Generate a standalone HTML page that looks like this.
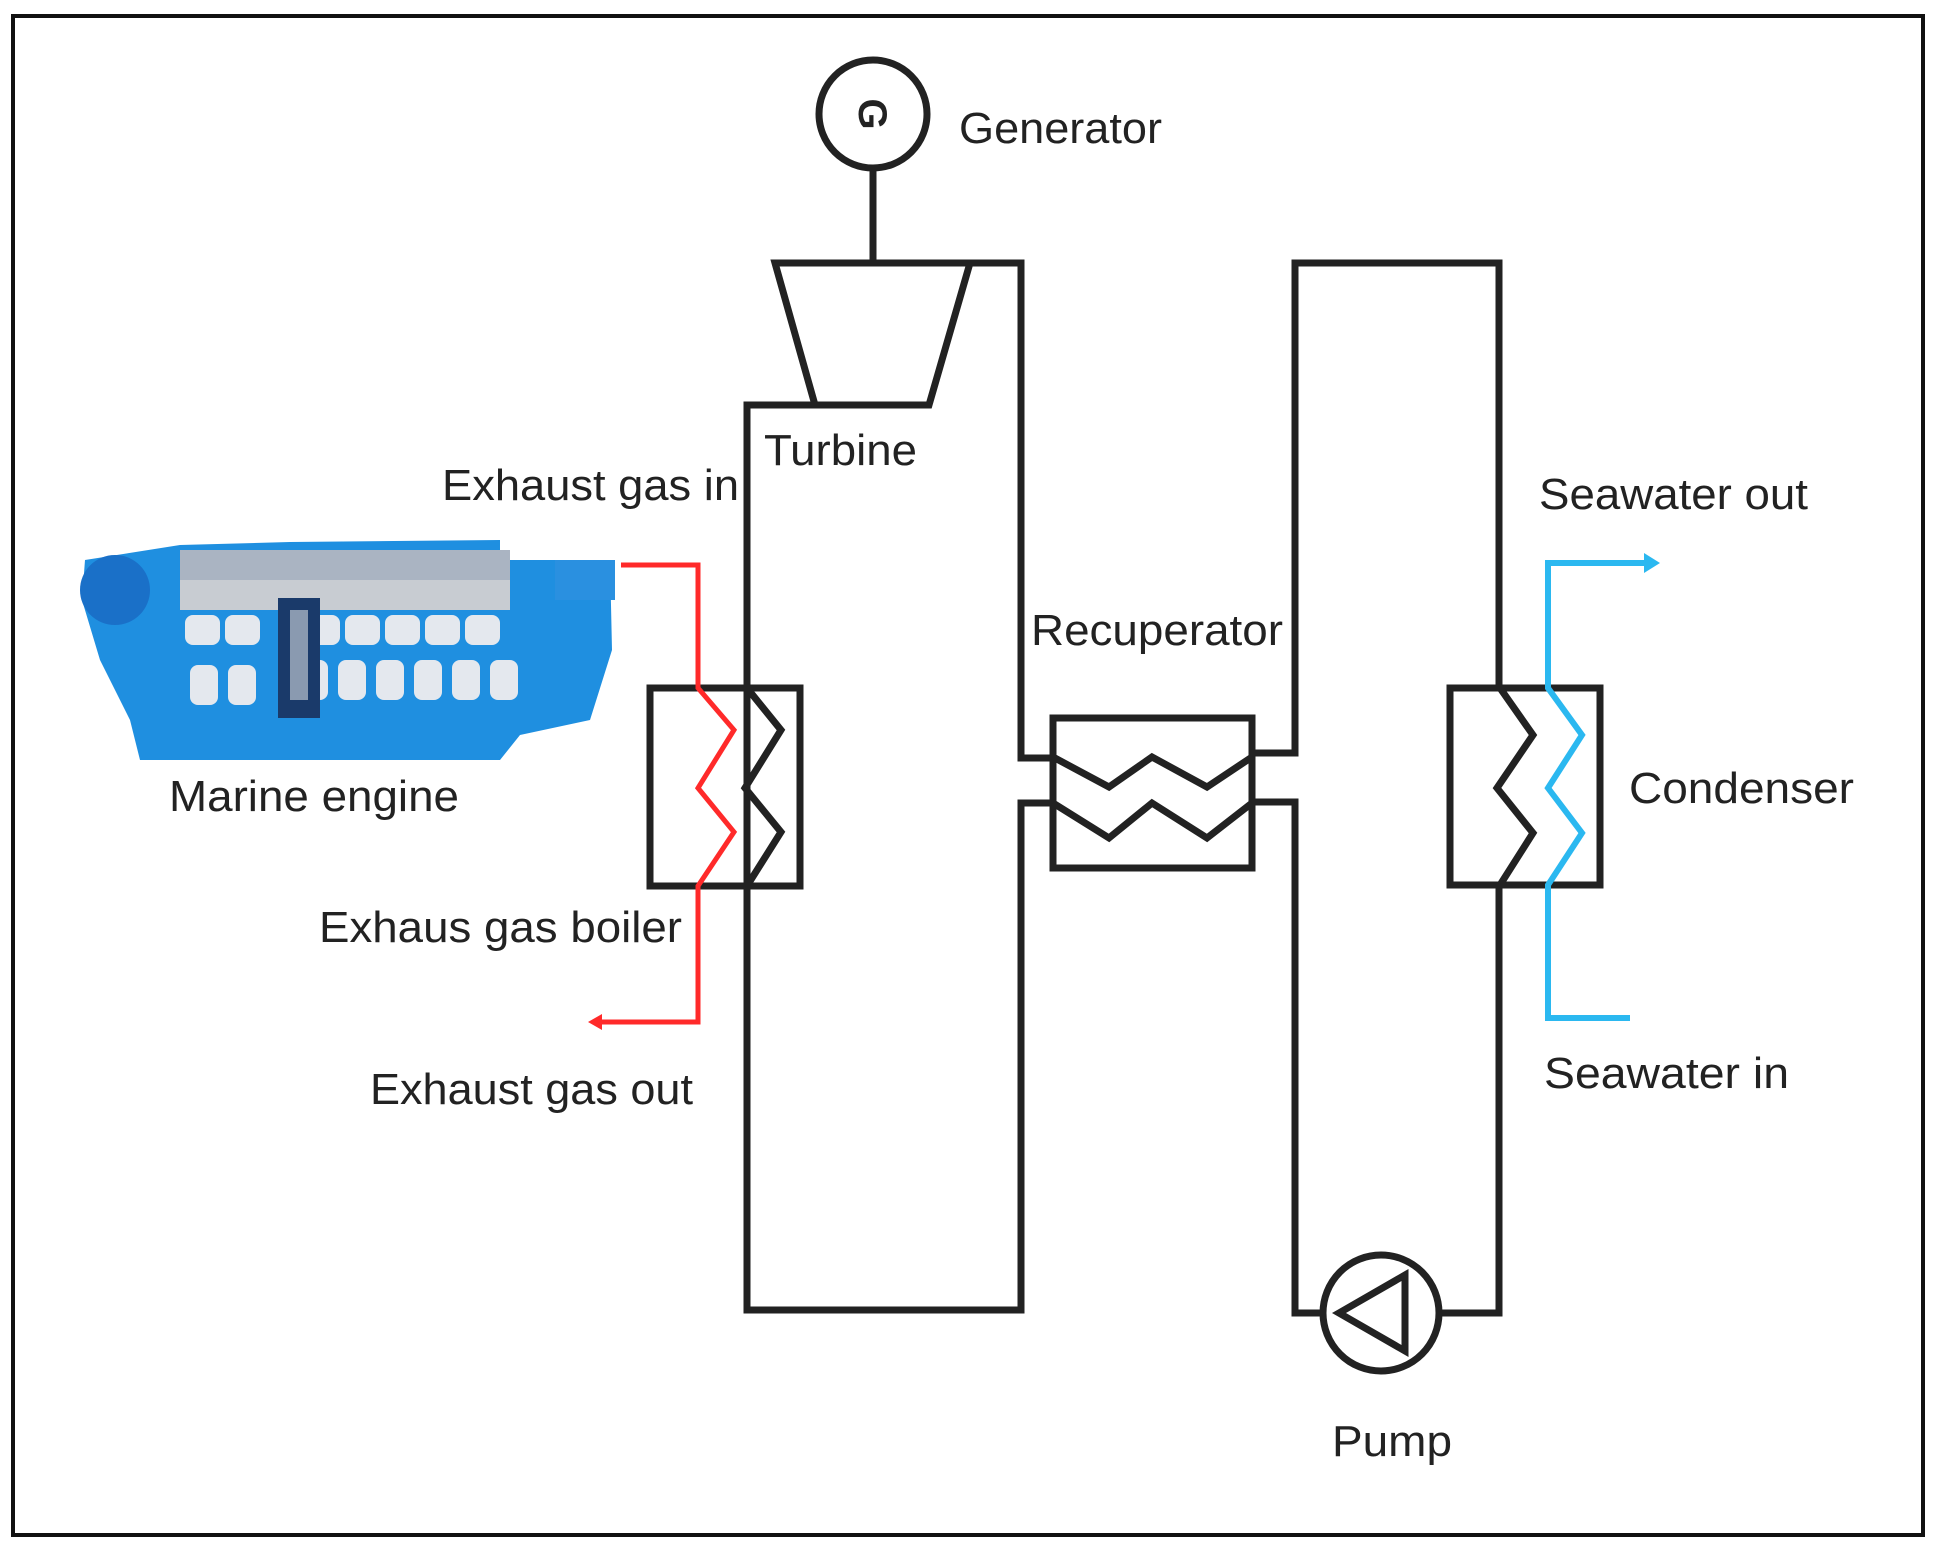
<!DOCTYPE html>
<html><head><meta charset="utf-8"><style>html,body{margin:0;padding:0;background:#fff}svg{display:block}</style></head>
<body>
<svg width="1938" height="1547" viewBox="0 0 1938 1547" xmlns="http://www.w3.org/2000/svg">
<rect x="13" y="16" width="1910" height="1519" fill="#fff" stroke="#111" stroke-width="4"/>
<g fill="none" stroke="#222" stroke-width="7" stroke-linejoin="miter">
<circle cx="873" cy="114" r="54"/>
<line x1="873" y1="168" x2="873" y2="263"/>
<polygon points="775,263 970,263 929,405 815,405"/>
<polyline points="970,263 1021,263 1021,758 1053,758"/>
<polyline points="929,405 747,405 747,1310 1021,1310 1021,803 1053,803"/>
<rect x="1053" y="718" width="199" height="150"/>
<polyline points="1053,757 1109,787 1152,757 1207,787 1252,757"/>
<polyline points="1053,803 1109,838 1152,803 1207,838 1252,803"/>
<polyline points="1252,753 1295,753 1295,263 1499,263 1499,688"/>
<polyline points="1252,802 1295,802 1295,1313 1322,1313"/>
<polyline points="1440,1313 1499,1313 1499,885"/>
<rect x="650" y="688" width="150" height="198"/>
<polyline points="747,405 747,688 781,730 745,788 781,832 747,886 747,1000"/>
<rect x="1450" y="688" width="150" height="197"/>
<polyline points="1500,688 1533,735 1497,788 1533,833 1500,885"/>
<circle cx="1381" cy="1313" r="58"/>
<polygon points="1339,1313 1405,1275 1405,1351"/>
</g>
<text x="873" y="128" font-family="Liberation Sans, sans-serif" font-weight="bold" font-size="40" fill="#222" text-anchor="middle" transform="rotate(90 873 114)">G</text>
<g fill="none" stroke="#ff2a2a" stroke-width="5">
<polyline points="621,565 698,565 698,688 734,730 698,788 734,832 698,886 698,1022 600,1022"/>
</g>
<polygon points="588,1022 602,1014 602,1030" fill="#ff2a2a"/>
<g fill="none" stroke="#2bb8f0" stroke-width="6">
<polyline points="1648,563 1548,563 1548,688 1582,735 1548,788 1582,833 1548,885 1548,1018 1630,1018"/>
</g>
<polygon points="1660,563 1644,553 1644,573" fill="#2bb8f0"/>
<!-- engine -->
<g>
<rect x="120" y="545" width="480" height="200" fill="#fff"/>
<path d="M85,560 L180,545 L290,542 L500,540 L500,560 L610,560 L612,650 L590,720 L520,735 L500,760 L140,760 L130,720 L100,660 L82,600 Z" fill="#1f8fe0"/>
<rect x="180" y="550" width="330" height="35" fill="#aab4c2"/>
<rect x="180" y="580" width="330" height="30" fill="#c8ccd2"/>
<g fill="#e4e8ee">
<rect x="185" y="615" width="35" height="30" rx="8"/><rect x="225" y="615" width="35" height="30" rx="8"/>
<rect x="305" y="615" width="35" height="30" rx="8"/><rect x="345" y="615" width="35" height="30" rx="8"/>
<rect x="385" y="615" width="35" height="30" rx="8"/><rect x="425" y="615" width="35" height="30" rx="8"/>
<rect x="465" y="615" width="35" height="30" rx="8"/>
<rect x="190" y="665" width="28" height="40" rx="8"/><rect x="228" y="665" width="28" height="40" rx="8"/>
<rect x="300" y="660" width="28" height="40" rx="8"/><rect x="338" y="660" width="28" height="40" rx="8"/>
<rect x="376" y="660" width="28" height="40" rx="8"/><rect x="414" y="660" width="28" height="40" rx="8"/>
<rect x="452" y="660" width="28" height="40" rx="8"/><rect x="490" y="660" width="28" height="40" rx="8"/>
</g>
<rect x="278" y="598" width="42" height="120" fill="#1a3a6a"/>
<rect x="290" y="610" width="18" height="90" fill="#8a9ab0"/>
<circle cx="115" cy="590" r="35" fill="#1a70c8"/>
<rect x="555" y="560" width="60" height="40" fill="#2a90e0"/>
</g>
<g font-family="Liberation Sans, Arial, sans-serif" font-size="44" fill="#222">
<text x="959" y="143" textLength="203" lengthAdjust="spacingAndGlyphs">Generator</text>
<text x="764" y="465" textLength="153" lengthAdjust="spacingAndGlyphs">Turbine</text>
<text x="442" y="500" textLength="297" lengthAdjust="spacingAndGlyphs">Exhaust gas in</text>
<text x="1539" y="509" textLength="269" lengthAdjust="spacingAndGlyphs">Seawater out</text>
<text x="1031" y="645" textLength="252" lengthAdjust="spacingAndGlyphs">Recuperator</text>
<text x="169" y="811" textLength="290" lengthAdjust="spacingAndGlyphs">Marine engine</text>
<text x="1629" y="803" textLength="225" lengthAdjust="spacingAndGlyphs">Condenser</text>
<text x="319" y="942" textLength="363" lengthAdjust="spacingAndGlyphs">Exhaus gas boiler</text>
<text x="1544" y="1088" textLength="245" lengthAdjust="spacingAndGlyphs">Seawater in</text>
<text x="370" y="1104" textLength="323" lengthAdjust="spacingAndGlyphs">Exhaust gas out</text>
<text x="1332" y="1456" textLength="120" lengthAdjust="spacingAndGlyphs">Pump</text>
</g>
</svg>
</body></html>
